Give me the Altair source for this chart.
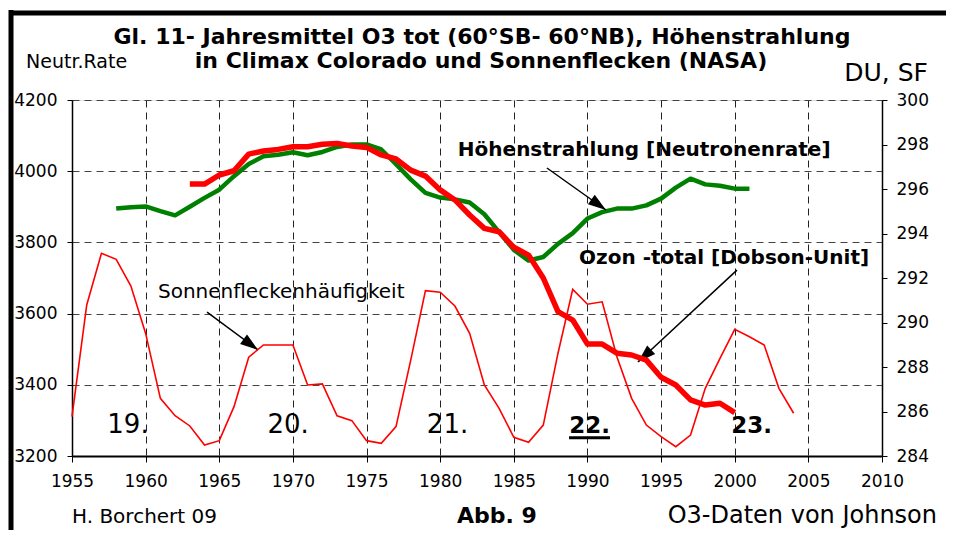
import math
import altair as alt
import pandas as pd

FONT = "DejaVu Sans"

# ---------------- data ----------------
neutron_years = list(range(1958, 2002))
neutron_rate = [3895, 3899, 3901, 3888, 3876, 3900, 3925, 3948, 3986, 4020,
                4042, 4046, 4053, 4045, 4054, 4068, 4075, 4075, 4061, 4020,
                3977, 3939, 3926, 3921, 3912, 3879, 3829, 3779, 3749, 3759,
                3796, 3826, 3867, 3885, 3895, 3895, 3904, 3923, 3954, 3979,
                3963, 3959, 3951, 3951]

ozone_years = list(range(1963, 2001))
ozone_du = [296.22, 296.22, 296.63, 296.82, 297.57, 297.71, 297.78, 297.90, 297.90, 298.01,
            298.05, 297.93, 297.87, 297.53, 297.35, 296.85, 296.58, 295.96, 295.51, 294.83,
            294.23, 294.08, 293.38, 293.03, 292.00, 290.49, 290.11, 289.03, 289.03, 288.62,
            288.54, 288.31, 287.54, 287.19, 286.52, 286.29, 286.37, 285.95]

sunspot_years = list(range(1955, 2005))
sunspot_sf = [285.77, 290.79, 293.11, 292.84, 291.64, 289.51, 286.59, 285.81, 285.35, 284.49,
              284.69, 286.22, 288.44, 288.99, 288.99, 288.99, 287.19, 287.24, 285.81, 285.59,
              284.69, 284.57, 285.32, 288.31, 291.43, 291.36, 290.74, 289.51, 287.19, 286.14,
              284.84, 284.62, 285.39, 288.62, 291.49, 290.82, 290.93, 288.46, 286.59, 285.39,
              284.87, 284.42, 284.94, 287.04, 288.39, 289.69, 289.36, 288.99, 287.04, 285.92]

x_ticks = list(range(1955, 2011, 5))
left_ticks = list(range(3200, 4201, 200))
right_ticks = list(range(284, 301, 2))

# annotations (in year / left-axis units)
arrow_start_year = [1987.25, 2000.15, 1964.17]
arrow_start_val = [4009, 3722, 3604]
arrow_tip_year = [1991.26, 1993.43, 1967.63]
arrow_tip_val = [3891, 3464, 3498]

cycle_labels = ["19.", "20.", "21.", "22.", "23."]
cycle_years = [1958.80, 1969.67, 1980.50, 1990.14, 2001.15]
cycle_vals = [3264, 3264, 3264, 3266, 3266]
cycle_bold = [False, False, False, True, True]
cycle_size = [26, 26, 26, 23, 23]

W, H = 810, 356
XDOM = [1955, 2010]
LDOM = [3200, 4200]
RDOM = [284, 300]

xs = alt.Scale(domain=XDOM, nice=False, zero=False)
ls = alt.Scale(domain=LDOM, nice=False, zero=False)
rs = alt.Scale(domain=RDOM, nice=False, zero=False)

x_axis = alt.Axis(values=x_ticks, format="d", title=None, labelFontSize=17,
                  labelFont=FONT, labelColor="black", tickSize=6, tickColor="black",
                  domainColor="black", domainWidth=2, grid=True, gridDash=[7, 5],
                  gridColor="#222", gridWidth=1, labelPadding=11, labelFlush=False)
left_axis = alt.Axis(values=left_ticks, format="d", title=None, labelFontSize=17,
                     labelFont=FONT, labelColor="black", tickSize=5, tickColor="black",
                     domainColor="black", domainWidth=1.5, grid=True, gridDash=[7, 5],
                     gridColor="#444", gridWidth=1, labelPadding=10)
right_axis = alt.Axis(values=right_ticks, format="d", title=None, labelFontSize=17,
                      labelFont=FONT, labelColor="black", tickSize=5, tickColor="black",
                      domainColor="black", domainWidth=1.5, grid=False, labelPadding=9,
                      orient="right")

df_n = pd.DataFrame({"year": neutron_years, "v": neutron_rate})
df_o = pd.DataFrame({"year": ozone_years, "v": ozone_du})
df_s = pd.DataFrame({"year": sunspot_years, "v": sunspot_sf})

green = alt.Chart(df_n).mark_line(color="#008000", strokeWidth=4.5, strokeJoin="round").encode(
    x=alt.X("year:Q", scale=xs, axis=x_axis),
    y=alt.Y("v:Q", scale=ls, axis=left_axis),
)

sun = alt.Chart(df_s).mark_line(color="#ff0000", strokeWidth=1.6).encode(
    x=alt.X("year:Q", scale=xs),
    y=alt.Y("v:Q", scale=rs, axis=right_axis),
)
ozone = alt.Chart(df_o).mark_line(color="#ff0000", strokeWidth=5.5, strokeJoin="round").encode(
    x=alt.X("year:Q", scale=xs),
    y=alt.Y("v:Q", scale=rs),
)

# arrows
pxy = W / (XDOM[1] - XDOM[0])
pxv = H / (LDOM[1] - LDOM[0])
angles = []
for sy, sv, ty, tv in zip(arrow_start_year, arrow_start_val, arrow_tip_year, arrow_tip_val):
    dx = (ty - sy) * pxy
    dy = -(tv - sv) * pxv
    angles.append(math.degrees(math.atan2(dx, -dy)) % 360)
df_a = pd.DataFrame({"x1": arrow_start_year, "y1": arrow_start_val,
                     "x2": arrow_tip_year, "y2": arrow_tip_val, "ang": angles})
arrow_lines = alt.Chart(df_a).mark_rule(color="black", strokeWidth=1.5).encode(
    x=alt.X("x1:Q", scale=xs), y=alt.Y("y1:Q", scale=ls),
    x2="x2:Q", y2="y2:Q")
arrow_heads = alt.Chart(df_a).mark_point(
    shape="M0,0L0.65,2L-0.65,2Z", filled=True, color="black", opacity=1, size=324
).encode(x=alt.X("x2:Q", scale=xs), y=alt.Y("y2:Q", scale=ls),
         angle=alt.Angle("ang:Q", scale=None))


def dtext(text, yr, val, size, bold=False, align="center"):
    d = pd.DataFrame({"year": [yr], "v": [val]})
    return alt.Chart(d).mark_text(text=text, fontSize=size, font=FONT,
                                  fontWeight="bold" if bold else "normal",
                                  align=align, baseline="alphabetic", color="black").encode(
        x=alt.X("year:Q", scale=xs), y=alt.Y("v:Q", scale=ls))


inner_texts = [
    dtext("Höhenstrahlung [Neutronenrate]", 1981.2, 4043, 20, True, "left"),
    dtext("Ozon -total [Dobson-Unit]", 1989.43, 3739, 20, True, "left"),
    dtext("Sonnenfleckenhäufigkeit", 1960.84, 3643, 20, False, "left"),
]
for lab, yr, val, b, s in zip(cycle_labels, cycle_years, cycle_vals, cycle_bold, cycle_size):
    inner_texts.append(dtext(lab, yr, val, s, b, "center"))

df_ul = pd.DataFrame({"x1": [1988.75], "x2": [1991.53], "y1": [3251]})
underline = alt.Chart(df_ul).mark_rule(color="black", strokeWidth=3).encode(
    x=alt.X("x1:Q", scale=xs), x2="x2:Q", y=alt.Y("y1:Q", scale=ls))

one = pd.DataFrame({"k": [0]})


def ptext(text, x, y, size, bold=False, align="center"):
    return alt.Chart(one).mark_text(text=text, fontSize=size, font=FONT,
                                    fontWeight="bold" if bold else "normal",
                                    align=align, baseline="alphabetic", color="black").encode(
        x=alt.value(x), y=alt.value(y))


outer_texts = [
    ptext("Gl. 11- Jahresmittel O3 tot (60°SB- 60°NB), Höhenstrahlung", 410, -56, 22, True),
    ptext("in Climax Colorado und Sonnenflecken (NASA)", 409, -32, 22, True),
    ptext("Neutr.Rate", -46, -32, 19, False, "left"),
    ptext("DU, SF", 856, -19, 25, False, "right"),
    ptext("H. Borchert 09", 0, 423, 20, False, "left"),
    ptext("Abb. 9", 425, 423, 22, True),
    ptext("O3-Daten von Johnson", 865, 423, 24, False, "right"),
]

frame_left = alt.Chart(one).mark_rule(color="black", strokeWidth=5).encode(
    x=alt.value(-61), y=alt.value(-90), y2=alt.value(440))
frame_top = alt.Chart(one).mark_rule(color="black", strokeWidth=5).encode(
    x=alt.value(-63), x2=alt.value(880), y=alt.value(-87))

left_group = alt.layer(green, arrow_lines, arrow_heads, underline, *inner_texts,
                       *outer_texts, frame_left, frame_top)
right_group = alt.layer(sun, ozone)

chart = alt.layer(left_group, right_group).resolve_scale(y="independent").properties(
    width=W, height=H,
    autosize=alt.AutoSizeParams(type="none"),
    padding={"left": 64, "top": 92, "right": 64, "bottom": 74},
).configure_view(stroke="#888", strokeWidth=1).configure(background="white")

chart.save("out.html", embed_options={"renderer": "svg", "actions": False})
